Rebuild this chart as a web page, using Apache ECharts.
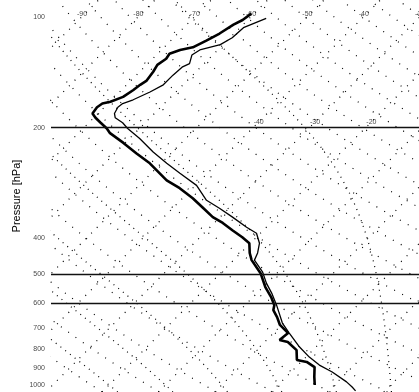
<!DOCTYPE html>
<html>
<head>
<meta charset="utf-8">
<script src="https://cdn.jsdelivr.net/npm/echarts@6/dist/echarts.min.js"></script>
<style>html,body{margin:0;padding:0;background:#fff}#c{width:419px;height:392px}</style>
</head>
<body>
<div id="c"></div>
<script>
// ---- data ----
const tempP = [1038,1013,981,922,883,840,789,723,679,607,563,529,494,458,438,412,387,373,350,331,315,287,266,250,233,214,201,194,188,183,176,172,168,160,153,144,137,134,127,123,119,114,107,101];
const tempT = [24.8,23.5,21.6,17.3,13.8,10.6,7.1,2.8,-0.2,-4.4,-7.4,-10.1,-12.7,-16.3,-17.0,-18.4,-20.7,-23.5,-27.8,-31.7,-35.4,-39.8,-44.9,-49.0,-53.4,-58.2,-62.1,-64.0,-66.2,-67.1,-67.6,-67.4,-66.2,-64.6,-63.5,-63.5,-63.3,-62.6,-63.7,-63.2,-60.5,-59.6,-59.4,-57.0];
const dewP = [1000,951,894,866,855,804,764,755,723,687,654,626,607,577,542,497,458,438,412,397,380,363,350,329,311,292,278,250,235,220,207,201,194,188,183,176,172,170,165,158,153,149,141,135,130,126,123,121,116,111,105,102,98];
const dewT = [16.5,15.0,13.3,11.0,8.9,7.1,4.1,2.3,2.6,-0.3,-2.2,-4.1,-4.8,-6.8,-9.6,-12.9,-16.8,-18.4,-20.2,-22.5,-25.5,-28.5,-31.3,-34.9,-38.2,-42.3,-46.0,-52.0,-56.1,-60.3,-64.4,-65.8,-67.9,-69.7,-71.0,-71.3,-71.0,-69.9,-68.5,-67.9,-67.6,-67.2,-67.6,-68.1,-67.6,-67.9,-66.7,-64.9,-63.7,-62.6,-61.7,-60.9,-60.5];
const pressureTicks = [100,200,400,500,600,700,800,900,1000];
const refLevels = [200,500,600];
const topIsoLabels = [-90,-80,-70,-60,-50,-40,-30];
const midIsoLabels = [-40,-30,-20];
const isotherms = [-130,-120,-110,-100,-90,-80,-70,-60,-50,-40,-30,-20,-10,0,10,20,30,40];
const thetas = [230,240,250,260,270,280,290,300,310,320,330,340,350,360,370,380,390,400,410,420,430,440,450,460,470,480];
const moistStarts = [-20,-10,0,10,20,30];

// ---- skew-T helpers ----
const K = 28.3;      // skew (deg C per ln unit of pressure)
const P_TOP = 90, P_BOT = 1045;
const X_MIN = -30.3, X_MAX = 35;
function sx(T, p) { return T + K * Math.log(1000 / p); }
function pr() { const a = []; for (let p = P_BOT; p >= P_TOP; p -= 5) a.push(p); if (a[a.length-1] !== P_TOP) a.push(P_TOP); return a; }
const levels = pr();

const series = [];
isotherms.forEach(T => {
  series.push({ type: 'line', silent: true, symbol: 'none', lineStyle: { color: '#000', width: 1.2, type: [1, 7] },
    data: [[sx(T, P_BOT), P_BOT], [sx(T, P_TOP), P_TOP]] });
});
thetas.forEach(th => {
  series.push({ type: 'line', silent: true, symbol: 'none', lineStyle: { color: '#000', width: 1.2, type: [1, 8] },
    data: levels.map(p => [sx(th * Math.pow(p / 1000, 0.2857) - 273.15, p), p]) });
});
function dTdp(T, p) {
  const es = 6.112 * Math.exp(17.67 * (T - 273.15) / (T - 29.65));
  const rs = 0.622 * es / Math.max(p - es, 1);
  const num = (287.04 * T + 2.501e6 * rs) / p;
  const den = 1005.7 + (2.501e6 * 2.501e6 * rs * 0.622) / (287.04 * T * T);
  return num / den;
}
moistStarts.forEach(T0 => {
  const pts = [];
  let T = T0 + 273.15;
  const down = [];
  for (let p = 1000; p < P_BOT; p += 5) { T += dTdp(T, p) * 5; down.push([sx(T - 273.15, p + 5), p + 5]); }
  T = T0 + 273.15;
  pts.push([sx(T0, 1000), 1000]);
  for (let p = 1000; p > P_TOP; p -= 5) { T -= dTdp(T, p) * 5; pts.push([sx(T - 273.15, p - 5), p - 5]); }
  series.push({ type: 'line', silent: true, symbol: 'none', lineStyle: { color: '#000', width: 1.2, type: [1, 5] },
    data: down.reverse().concat(pts) });
});

// reference lines
series.push({ type: 'line', silent: true, symbol: 'none', data: [],
  markLine: { silent: true, symbol: 'none', label: { show: false },
    lineStyle: { color: '#111', width: 1.4, type: 'solid' },
    data: refLevels.map(p => ({ yAxis: p })) } });

// profiles
series.push({ type: 'line', name: 'Dewpoint', silent: true, symbol: 'none',
  lineStyle: { color: '#000', width: 2.6 },
  data: dewP.map((p, i) => [sx(dewT[i], p), p]) });
series.push({ type: 'line', name: 'Temperature', silent: true, symbol: 'none',
  lineStyle: { color: '#000', width: 1.3 },
  data: tempP.map((p, i) => [sx(tempT[i], p), p]) });

// labels
const lblStyle = { show: true, fontSize: 7, color: '#111', fontFamily: 'Liberation Sans' };
series.push({ type: 'scatter', silent: true, symbolSize: 0, clip: false,
  data: pressureTicks.map(p => [X_MIN, p]),
  label: Object.assign({}, lblStyle, { position: 'left', distance: 6, formatter: d => String(d.value[1]) }) });
series.push({ type: 'scatter', silent: true, symbolSize: 0, clip: false,
  data: topIsoLabels.map(T => [sx(T, 98), 98, T]),
  label: Object.assign({}, lblStyle, { position: 'inside', offset: [-3, 0], formatter: d => String(d.value[2]) }) });
series.push({ type: 'scatter', silent: true, symbolSize: 0, clip: false,
  data: midIsoLabels.map(T => [sx(T, 193), 193, T]),
  label: Object.assign({}, lblStyle, { position: 'inside', formatter: d => String(d.value[2]) }) });

const chart = echarts.init(document.getElementById('c'), null, { renderer: 'canvas' });
chart.setOption({
  animation: false,
  backgroundColor: '#fff',
  grid: { left: 51, right: 0, top: 0, bottom: 0 },
  xAxis: { type: 'value', min: X_MIN, max: X_MAX, show: false },
  yAxis: { type: 'log', min: P_TOP, max: P_BOT, inverse: true,
    name: 'Pressure [hPa]', nameLocation: 'middle', nameGap: 29, nameRotate: 90,
    nameTextStyle: { fontSize: 11, color: '#000', fontFamily: 'Liberation Sans' },
    axisLine: { show: false }, axisTick: { show: false }, axisLabel: { show: false }, splitLine: { show: false } },
  series: series
});
</script>
</body>
</html>
